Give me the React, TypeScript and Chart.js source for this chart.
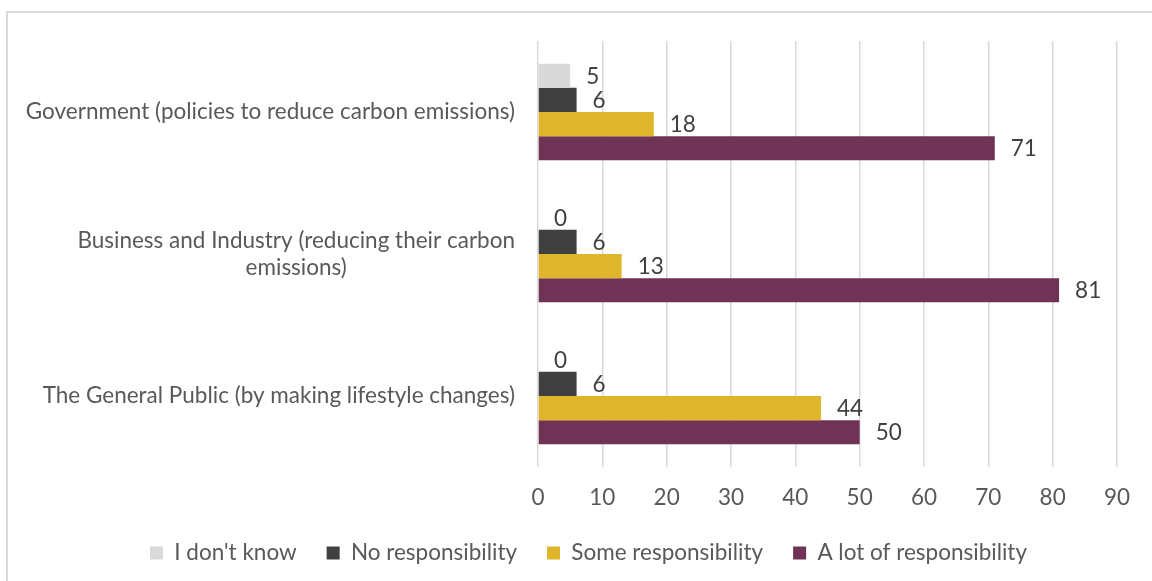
import React, { useEffect, useRef } from "react";
import { Chart, registerables } from "chart.js";
Chart.register(...registerables);

const categories: string[][] = [
  ["Government (policies to reduce carbon emissions)"],
  ["Business and Industry (reducing their carbon", "emissions)"],
  ["The General Public (by making lifestyle changes)"],
];
const seriesNames = ["I don't know", "No responsibility", "Some responsibility", "A lot of responsibility"];
const dontKnow = [5, 0, 0];
const noResponsibility = [6, 6, 6];
const someResponsibility = [18, 13, 44];
const lotResponsibility = [71, 81, 50];
const seriesColors = ["#d9d9d9", "#404040", "#dfb52c", "#6f3356"];
const xMax = 90;
const xStep = 10;

const FONT = "Lato, 'Open Sans', sans-serif";
const FS = 22.5;
const TEXT_COLOR = "#595959";

const categoryLabelPlugin = {
  id: "categoryLabels",
  afterDraw(chart: any) {
    const ctx = chart.ctx;
    const y = chart.scales.y;
    const rightEdge = chart.chartArea.left - 23;
    const lineH = 27;
    ctx.save();
    ctx.font = `${FS}px ${FONT}`;
    ctx.fillStyle = TEXT_COLOR;
    ctx.textBaseline = "middle";
    ctx.textAlign = "center";
    categories.forEach((lines, i) => {
      const cy = y.getPixelForValue(i);
      const blockW = Math.max(...lines.map((l) => ctx.measureText(l).width));
      const cx = rightEdge - blockW / 2;
      const startY = cy - ((lines.length - 1) * lineH) / 2;
      lines.forEach((l, j) => ctx.fillText(l, cx, startY + j * lineH));
    });
    ctx.restore();
  },
};

const dataLabelPlugin = {
  id: "dataLabels",
  afterDatasetsDraw(chart: any) {
    const ctx = chart.ctx;
    ctx.save();
    ctx.font = `${FS}px ${FONT}`;
    ctx.fillStyle = "#404040";
    ctx.textBaseline = "middle";
    ctx.textAlign = "left";
    chart.data.datasets.forEach((ds: any, di: number) => {
      const meta = chart.getDatasetMeta(di);
      meta.data.forEach((bar: any, i: number) => {
        ctx.fillText(String(ds.data[i]), bar.x + 16, bar.y + 1);
      });
    });
    ctx.restore();
  },
};

export default function App() {
  const ref = useRef<HTMLCanvasElement>(null);
  useEffect(() => {
    if (!ref.current) return;
    const values = [dontKnow, noResponsibility, someResponsibility, lotResponsibility];
    const chart = new Chart(ref.current, {
      type: "bar",
      data: {
        labels: categories.map((c) => c.join(" ")),
        datasets: seriesNames.map((name, i) => ({
          label: name,
          data: values[i],
          backgroundColor: seriesColors[i],
          borderWidth: 0,
          categoryPercentage: 0.68,
          barPercentage: 1,
        })),
      },
      options: {
        indexAxis: "y",
        animation: false,
        responsive: false,
        maintainAspectRatio: false,
        layout: { padding: { left: 60, right: 35, top: 41, bottom: 6.75 } },
        scales: {
          x: {
            min: 0,
            max: xMax,
            ticks: {
              stepSize: xStep,
              color: TEXT_COLOR,
              font: { family: FONT, size: FS },
              padding: 17.5,
            },
            grid: { color: "#d9d9d9", lineWidth: 1.5, drawTicks: false },
            border: { display: false },
            afterFit: (s: any) => {
              s.height = 44.75;
            },
          },
          y: {
            display: true,
            ticks: { display: false },
            grid: { display: false, drawTicks: false },
            border: { display: false },
            afterFit: (s: any) => {
              s.width = 478;
            },
          },
        },
        plugins: {
          legend: {
            position: "bottom",
            labels: {
              boxWidth: 13,
              boxHeight: 13,
              padding: 30,
              color: TEXT_COLOR,
              font: { family: FONT, size: FS },
            },
          },
          tooltip: { enabled: false },
        },
      },
      plugins: [categoryLabelPlugin, dataLabelPlugin],
    } as any);
    return () => chart.destroy();
  }, []);
  return (
    <div style={{ position: "fixed", left: 0, top: 0, width: 1152, height: 581, overflow: "hidden", background: "#fff" }}>
      <div style={{ position: "absolute", left: 6, top: 11, width: 1300, height: 700, border: "2px solid #d9d9d9" }} />
      <canvas ref={ref} width={1152} height={581} style={{ position: "absolute", left: 0, top: 0 }} />
    </div>
  );
}
